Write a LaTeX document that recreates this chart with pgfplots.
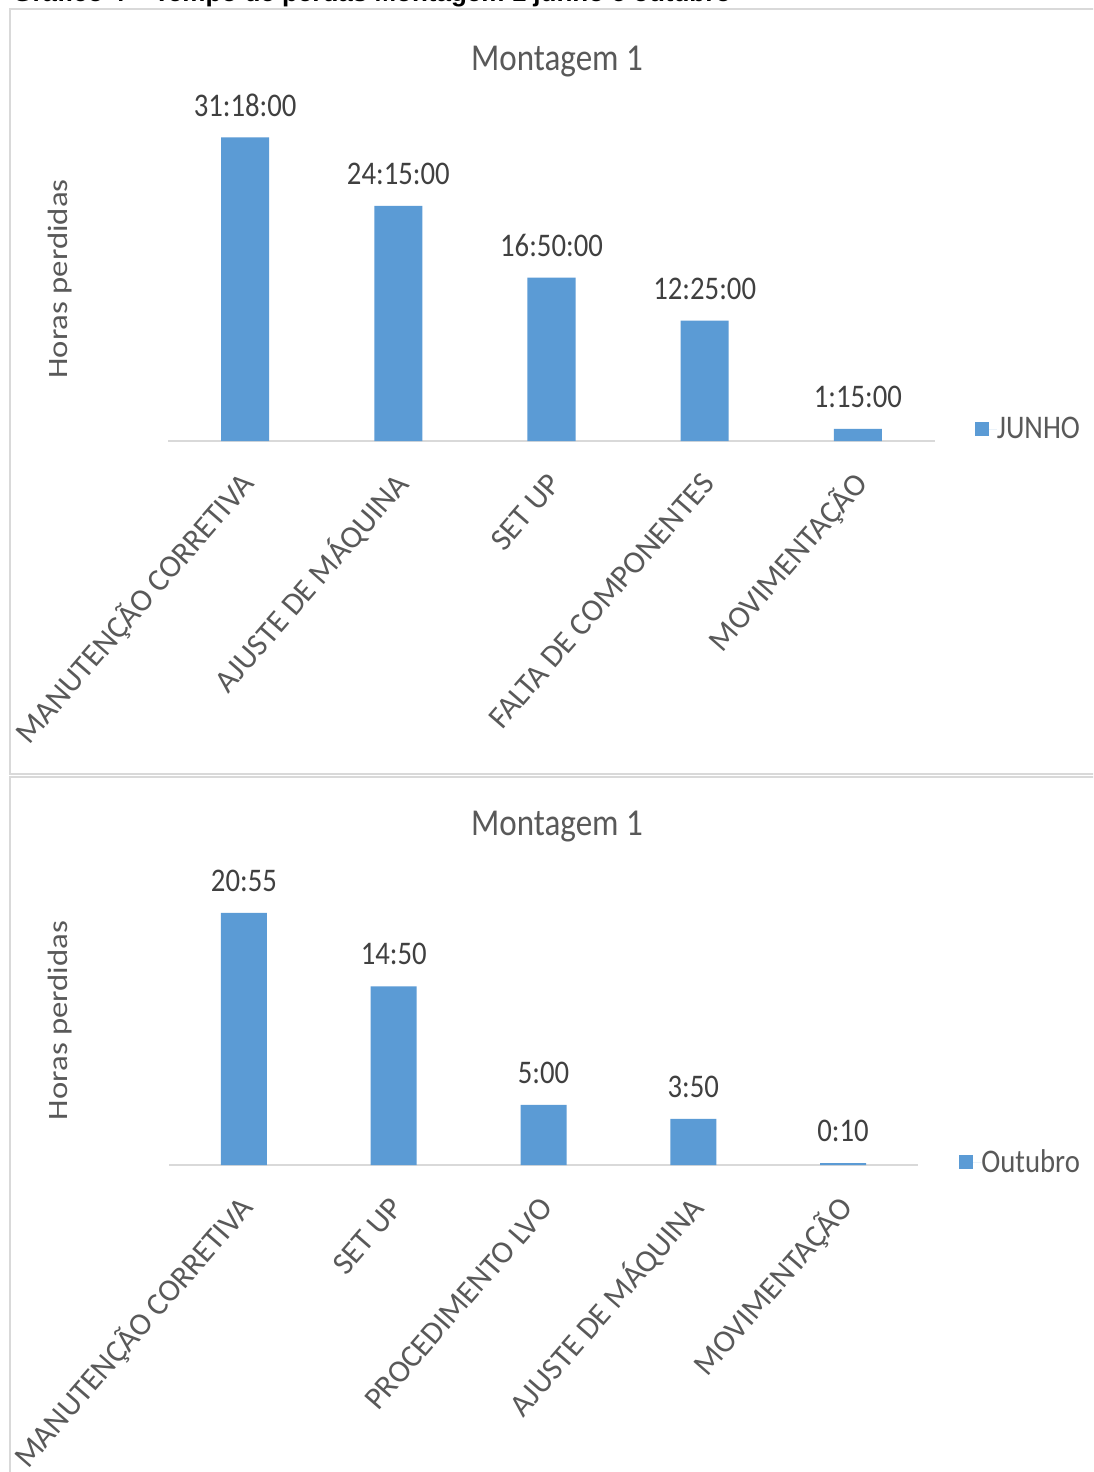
\documentclass[border=0pt]{standalone}
\usepackage{pgfplots}
\pgfplotsset{compat=1.18}
\usepackage{pgfplotstable}
\usepackage{fontspec}
\setmainfont{Carlito}
\newfontfamily\cst{Carlito}[FakeStretch=0.87]
\newfontfamily\cwide{Carlito}[FakeStretch=1.17]
\newfontfamily\arialf{Liberation Sans}
\definecolor{barblue}{HTML}{5B9BD5}
\definecolor{txt}{HTML}{595959}
\definecolor{dlab}{HTML}{404040}
\definecolor{gridc}{HTML}{D9D9D9}
\newcommand\datfont{\cst\fontsize{16.5}{18}\selectfont}
\newcommand\labfont{\fontsize{15.8}{17}\selectfont}
\newcommand\titfont{\cst\fontsize{19}{21}\selectfont}
\newcommand\ylabfont{\cwide\fontsize{14}{16}\selectfont}

\pgfplotstableread{
x y lab
0 31.3 31:18:00
1 24.25 24:15:00
2 16.8333 16:50:00
3 12.4167 12:25:00
4 1.25 1:15:00
}\junho
\pgfplotstableread{
x y lab
0 20.9167 20:55
1 14.8333 14:50
2 5 5:00
3 3.8333 3:50
4 0.1667 0:10
}\outubro

\pgfplotsset{
  mybar/.style={
    scale only axis, ybar, ymin=0, xmin=-0.5, xmax=4.5, xtick=data,
    axis x line*=bottom, axis y line*=left,
    y axis line style={draw=none},
    x axis line style={draw=gridc, line width=0.75pt, -},
    ytick=\empty, major tick length=0pt, xtick style={draw=none},
    clip=false, enlargelimits=false,
    nodes near coords, point meta=explicit symbolic,
    every node near coord/.append style={font=\datfont, text=dlab, yshift=7pt},
    xticklabel style={font=\labfont, text=txt, xshift=4pt, yshift=-16pt, rotate=49, anchor=east},
    ylabel={Horas perdidas},
    legend style={draw=none, fill=none, inner sep=0pt, font=\datfont, text=txt,
      nodes={inner sep=0pt}},
    legend image code/.code={\fill[barblue] (0pt,-3.5pt) rectangle (7pt,3.5pt); \path (0pt,0pt) -- (11pt,0pt);},
  }
}

\begin{document}
\begin{tikzpicture}
\path[use as bounding box] (0,0) rectangle (546.5pt,-736pt);
\clip (0,0) rectangle (546.5pt,-736pt);
\fill[white] (0,0) rectangle (546.5pt,-736pt);
% cut caption at top
\node[anchor=base west, inner sep=0pt, font=\arialf\bfseries\fontsize{13}{15}\selectfont] at (6pt,-1pt) {Gráfico 4 – Tempo de perdas Montagem 1 junho e outubro};
% panel frames
\draw[gridc, line width=1pt] (4.75pt,-4.5pt) rectangle (560pt,-387pt);
\draw[gridc, line width=1pt] (4.75pt,-388.5pt) rectangle (560pt,-760pt);
% titles
\node[anchor=base, inner sep=0pt, font=\titfont, text=txt] at (278.5pt,-35pt) {Montagem 1};
\node[anchor=base, inner sep=0pt, font=\titfont, text=txt] at (278.5pt,-417.5pt) {Montagem 1};

\begin{axis}[mybar, at={(84.25pt,-220.5pt)}, anchor=south west,
  width=383pt, height=174.6pt, ymax=36, bar width=24pt,
  xticklabels={MANUTENÇÃO CORRETIVA, AJUSTE DE MÁQUINA, SET UP, FALTA DE COMPONENTES, MOVIMENTAÇÃO},
  every axis y label/.style={at={(axis description cs:-0.1416,0.464)}, rotate=90, anchor=center, font=\ylabfont, text=txt},
  legend style={at={(axis description cs:1,0.034)}, anchor=west, xshift=20pt},
]
\addplot[fill=barblue, draw=none] table[x=x, y=y, meta=lab] {\junho};
\addlegendentry{JUNHO}
\end{axis}

\begin{axis}[mybar, at={(84.5pt,-582.5pt)}, anchor=south west,
  width=374.5pt, height=144.6pt, ymax=24, bar width=23pt,
  xticklabels={MANUTENÇÃO CORRETIVA, SET UP, PROCEDIMENTO LVO, AJUSTE DE MÁQUINA, MOVIMENTAÇÃO},
  every axis y label/.style={at={(axis description cs:-0.1455,0.5)}, rotate=90, anchor=center, font=\ylabfont, text=txt},
  legend style={at={(axis description cs:1,0.009)}, anchor=west, xshift=20.5pt},
]
\addplot[fill=barblue, draw=none] table[x=x, y=y, meta=lab] {\outubro};
\addlegendentry{Outubro}
\end{axis}
\end{tikzpicture}
\end{document}
